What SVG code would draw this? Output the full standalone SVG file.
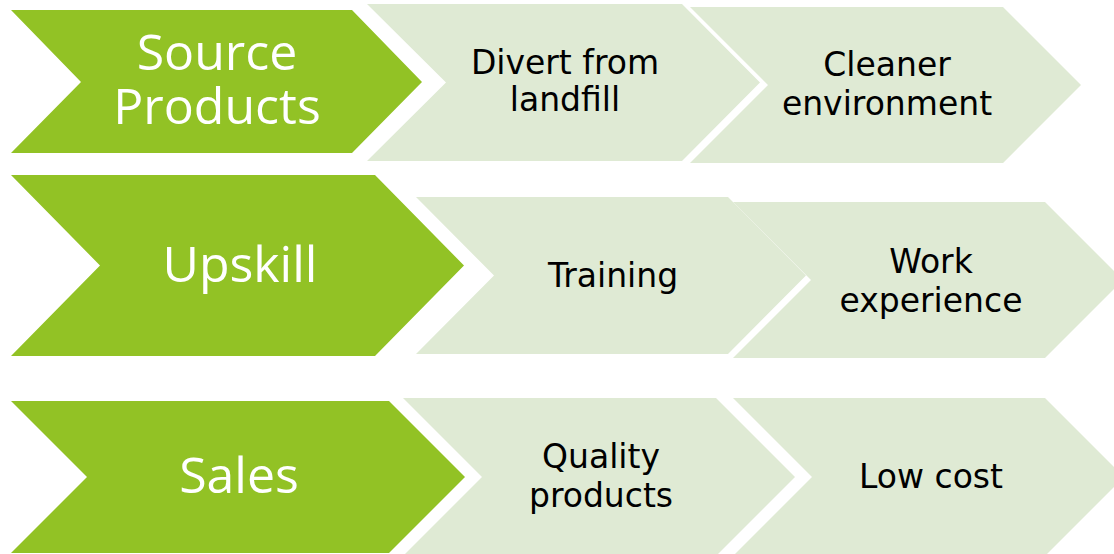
<svg xmlns="http://www.w3.org/2000/svg" width="1114" height="554" viewBox="0 0 1114 554">
<style>
.g{fill:#92c225}
.l{fill:#dfead4}
.wt{font-family:"Open Sans","Liberation Sans",sans-serif;font-size:50px;fill:#ffffff;text-anchor:middle}
.dt{font-family:"DejaVu Sans","Liberation Sans",sans-serif;font-size:33px;fill:#000000;text-anchor:middle}
</style>
<rect width="1114" height="554" fill="#ffffff"/>
<g id="row1-source">
<polygon class="g" points="11,10 352,10 422,82 352,153 11,153 81,82"/>
<text class="wt" x="217" y="70">Source</text>
<text class="wt" x="217" y="124">Products</text>
</g>
<g id="row1-divert">
<polygon class="l" points="367,4 682,4 760,82.5 682,161 367,161 446,82.5"/>
<text class="dt" x="565" y="74">Divert from</text>
<text class="dt" x="565" y="111">landfill</text>
</g>
<g id="row1-cleaner">
<polygon class="l" points="690,7 1003,7 1081,85 1003,163 690,163 768,85"/>
<text class="dt" x="887" y="76">Cleaner</text>
<text class="dt" x="887" y="115">environment</text>
</g>
<g id="row2-upskill">
<polygon class="g" points="11,175 375,175 464,265.5 375,356 11,356 100,265.5"/>
<text class="wt" x="240" y="282">Upskill</text>
</g>
<g id="row2-training">
<polygon class="l" points="416,197 728,197 806,275.5 728,354 416,354 494,275.5"/>
<text class="dt" x="613" y="287">Training</text>
</g>
<g id="row2-work">
<polygon class="l" points="733,202 1045,202 1123,280 1045,358 733,358 811,280"/>
<text class="dt" x="931" y="273">Work</text>
<text class="dt" x="931" y="312">experience</text>
</g>
<g id="row3-sales">
<polygon class="g" points="11,401 389,401 465,477 389,553 11,553 87,477"/>
<text class="wt" x="239" y="493">Sales</text>
</g>
<g id="row3-quality">
<polygon class="l" points="403,398 716,398 795,477 716,556 403,556 482,477"/>
<text class="dt" x="601" y="468">Quality</text>
<text class="dt" x="601" y="507">products</text>
</g>
<g id="row3-lowcost">
<polygon class="l" points="733,398 1045,398 1124,477 1045,556 733,556 812,477"/>
<text class="dt" x="931" y="488">Low cost</text>
</g>
<g id="connectors"></g>
</svg>
